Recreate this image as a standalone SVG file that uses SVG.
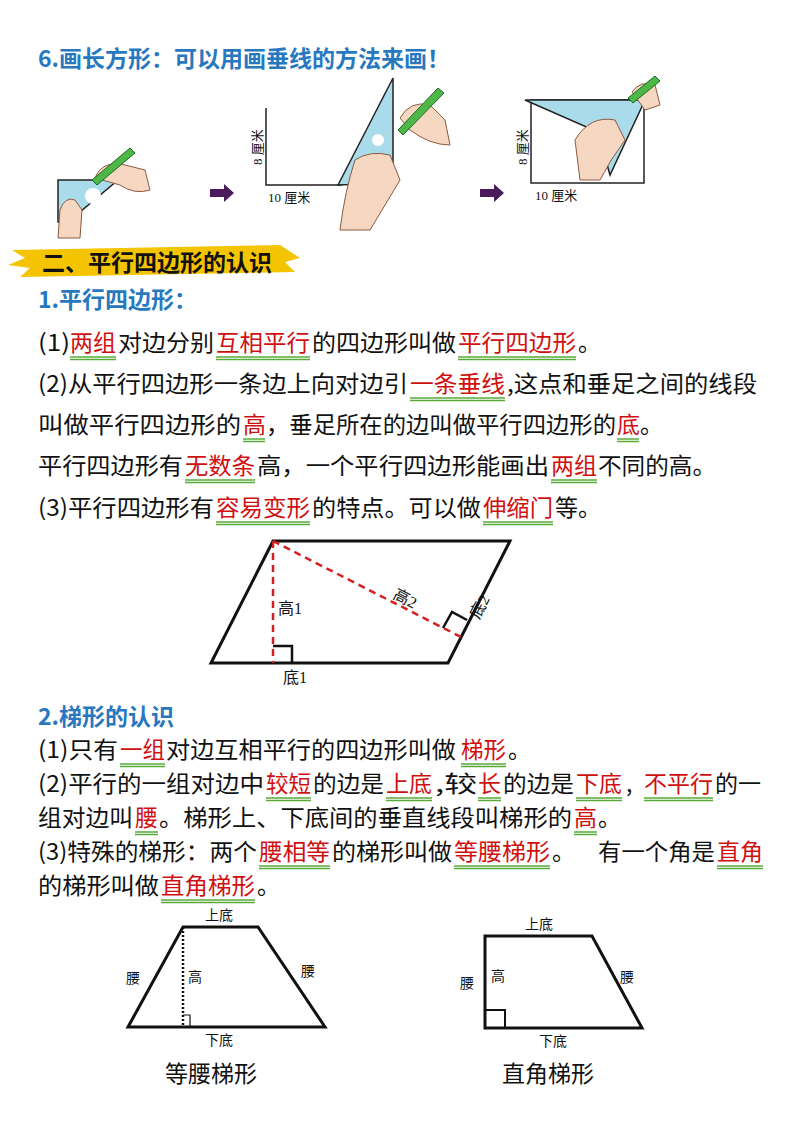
<svg xmlns="http://www.w3.org/2000/svg" width="800" height="1132" viewBox="0 0 800 1132">
<style>
text{font-family:"Noto Sans CJK SC","Liberation Sans",sans-serif;}
.b{font-size:23px;fill:#111;}
.r{font-size:23px;fill:#d01010;}
.h{font-size:23px;fill:#2878c0;font-weight:bold;}
.ul{stroke:#5aaa3a;stroke-width:1.3;fill:none;}
.s{font-size:13px;fill:#111;font-family:"Liberation Serif","Noto Sans CJK SC",serif;}
.t{font-size:14px;fill:#111;}
.tri{fill:#a9dbea;stroke:#222;stroke-width:1.5;}
.hand{fill:#f6d8c2;stroke:#8a5a40;stroke-width:1;}
.pen{fill:#4db848;stroke:#1e6a1e;stroke-width:1;}
</style>
<rect width="800" height="1132" fill="#fff"/>
<g id="title6"><text class="h" x="38" y="67">6.画长方形：可以用画垂线的方法来画！</text></g>
<g id="panel1">
<polygon class="tri" points="58,180 118,180 68,222 58,222"/>
<circle cx="93" cy="196" r="8" fill="#fff"/>
<path class="hand" d="M95,178 Q102,160 125,165 L145,170 L150,190 Q135,195 120,185 Z"/>
<polygon class="pen" points="92,180 130,148 135,153 97,185"/>
<path class="hand" d="M60,210 Q65,196 75,200 L82,210 L80,238 L58,238 Z"/>
</g>
<g id="arrow1"><polygon points="210,189 224,189 224,184 234,193 224,202 224,197 210,197" fill="#4a1a5a"/></g>
<g id="panel2">
<polyline points="266,108 266,185 342,185" fill="none" stroke="#222" stroke-width="1.5"/>
<polygon class="tri" points="338,185 393,78 393,183"/>
<circle cx="378" cy="140" r="6" fill="#fff"/>
<path class="hand" d="M355,160 Q370,150 390,155 L400,180 Q385,205 370,230 L340,230 Q345,190 355,160 Z"/>
<path class="hand" d="M400,118 Q410,100 430,105 L445,120 L450,145 Q430,145 410,130 Z"/>
<polygon class="pen" points="398,130 438,88 444,93 403,135"/>
<text class="s" transform="translate(262,165) rotate(-90)">8 厘米</text>
<text class="s" x="268" y="202">10 厘米</text>
</g>
<g id="arrow2"><polygon points="480,189 494,189 494,184 504,193 494,202 494,197 480,197" fill="#4a1a5a"/></g>
<g id="panel3">
<rect x="531" y="100" width="113" height="83" fill="none" stroke="#222" stroke-width="1.5"/>
<polygon class="tri" points="525,100 645,100 610,175 598,132"/>
<path class="hand" d="M575,140 Q590,115 615,120 L625,140 Q610,160 600,180 L580,180 Z"/>
<path class="hand" d="M632,92 Q640,80 655,85 L660,105 L645,110 Z"/>
<polygon class="pen" points="628,98 655,76 660,81 633,103"/>
<text class="s" transform="translate(527,165) rotate(-90)">8 厘米</text>
<text class="s" x="535" y="200">10 厘米</text>
</g>
<g id="banner">
<path d="M12,250 L280,245 L300,258 L285,262 L295,272 L20,277 L30,268 L8,265 L25,258 Z" fill="#f5c400"/>
<text x="42" y="271" style="font-size:23px;font-weight:bold;fill:#111">二、平行四边形的认识</text>
</g>
<g id="sec1">
<text class="h" x="38" y="308">1.平行四边形：</text>
<text class="b" x="38" y="351" textLength="32" lengthAdjust="spacingAndGlyphs">(1)</text>
<text class="r" x="70" y="351" textLength="46" lengthAdjust="spacingAndGlyphs">两组</text>
<text class="b" x="118" y="351" textLength="96" lengthAdjust="spacingAndGlyphs">对边分别</text>
<text class="r" x="216" y="351" textLength="94" lengthAdjust="spacingAndGlyphs">互相平行</text>
<text class="b" x="312" y="351" textLength="144" lengthAdjust="spacingAndGlyphs">的四边形叫做</text>
<text class="r" x="458" y="351" textLength="118" lengthAdjust="spacingAndGlyphs">平行四边形</text>
<text class="b" x="578" y="351">。</text>
<text class="b" x="38" y="392" textLength="370" lengthAdjust="spacingAndGlyphs">(2)从平行四边形一条边上向对边引</text>
<text class="r" x="410" y="392" textLength="95" lengthAdjust="spacingAndGlyphs">一条垂线</text>
<text class="b" x="507" y="392" textLength="250" lengthAdjust="spacingAndGlyphs">,这点和垂足之间的线段</text>
<text class="b" x="38" y="433" textLength="203" lengthAdjust="spacingAndGlyphs">叫做平行四边形的</text>
<text class="r" x="243" y="433">高</text>
<text class="b" x="266" y="433" textLength="350" lengthAdjust="spacingAndGlyphs">，垂足所在的边叫做平行四边形的</text>
<text class="r" x="617" y="433">底</text>
<text class="b" x="640" y="433">。</text>
<text class="b" x="38" y="474" textLength="145" lengthAdjust="spacingAndGlyphs">平行四边形有</text>
<text class="r" x="185" y="474" textLength="70" lengthAdjust="spacingAndGlyphs">无数条</text>
<text class="b" x="257" y="474" textLength="292" lengthAdjust="spacingAndGlyphs">高，一个平行四边形能画出</text>
<text class="r" x="551" y="474" textLength="46" lengthAdjust="spacingAndGlyphs">两组</text>
<text class="b" x="598" y="474" textLength="118" lengthAdjust="spacingAndGlyphs">不同的高。</text>
<text class="b" x="38" y="516" textLength="176" lengthAdjust="spacingAndGlyphs">(3)平行四边形有</text>
<text class="r" x="216" y="516" textLength="94" lengthAdjust="spacingAndGlyphs">容易变形</text>
<text class="b" x="312" y="516" textLength="169" lengthAdjust="spacingAndGlyphs">的特点。可以做</text>
<text class="r" x="483" y="516" textLength="70" lengthAdjust="spacingAndGlyphs">伸缩门</text>
<text class="b" x="555" y="516" textLength="46" lengthAdjust="spacingAndGlyphs">等。</text>
<g class="ul">
<path d="M70,357H116M70,359.5H116M216,357H310M216,359.5H310M458,357H576M458,359.5H576"/>
<path d="M410,398H505M410,400.5H505"/>
<path d="M243,439H265M243,441.5H265M617,439H639M617,441.5H639"/>
<path d="M185,480H255M185,482.5H255M551,480H597M551,482.5H597"/>
<path d="M216,522H310M216,524.5H310M483,522H553M483,524.5H553"/>
</g>
</g>
<g id="parallelogram">
<polygon points="273,541 510,541 448,663 211,663" fill="none" stroke="#111" stroke-width="3"/>
<path d="M273,541V663M273,541L461,637" stroke="#d42020" stroke-width="2.5" stroke-dasharray="7,5" fill="none"/>
<polyline points="273,646 292,646 292,663" fill="none" stroke="#111" stroke-width="2.5"/>
<polyline points="443,628 452,612 467,620" fill="none" stroke="#111" stroke-width="2.5"/>
<text class="s" style="font-size:16px" x="278" y="614">高1</text>
<text class="s" style="font-size:16px" x="283" y="683">底1</text>
<text class="s" style="font-size:16px" transform="translate(392,598) rotate(27)">高2</text>
<text class="s" style="font-size:16px" transform="translate(479,620) rotate(-62)">底2</text>
</g>
<g id="sec2">
<text class="h" x="38" y="725">2.梯形的认识</text>
<text class="b" x="38" y="758" textLength="80" lengthAdjust="spacingAndGlyphs">(1)只有</text>
<text class="r" x="120" y="758" textLength="45" lengthAdjust="spacingAndGlyphs">一组</text>
<text class="b" x="166" y="758" textLength="290" lengthAdjust="spacingAndGlyphs">对边互相平行的四边形叫做</text>
<text class="r" x="461" y="758" textLength="45" lengthAdjust="spacingAndGlyphs">梯形</text>
<text class="b" x="508" y="758">。</text>
<text class="b" x="38" y="792" textLength="226" lengthAdjust="spacingAndGlyphs">(2)平行的一组对边中</text>
<text class="r" x="266" y="792" textLength="45" lengthAdjust="spacingAndGlyphs">较短</text>
<text class="b" x="313" y="792" textLength="71" lengthAdjust="spacingAndGlyphs">的边是</text>
<text class="r" x="386" y="792" textLength="46" lengthAdjust="spacingAndGlyphs">上底</text>
<text class="b" x="435" y="792" textLength="42" lengthAdjust="spacingAndGlyphs">,较</text>
<text class="r" x="478" y="792">长</text>
<text class="b" x="503" y="792" textLength="71" lengthAdjust="spacingAndGlyphs">的边是</text>
<text class="r" x="576" y="792" textLength="46" lengthAdjust="spacingAndGlyphs">下底</text>
<text class="b" x="626" y="792">,</text>
<text class="r" x="644" y="792" textLength="69" lengthAdjust="spacingAndGlyphs">不平行</text>
<text class="b" x="715" y="792" textLength="46" lengthAdjust="spacingAndGlyphs">的一</text>
<text class="b" x="38" y="826" textLength="95" lengthAdjust="spacingAndGlyphs">组对边叫</text>
<text class="r" x="135" y="826">腰</text>
<text class="b" x="159" y="826" textLength="413" lengthAdjust="spacingAndGlyphs">。梯形上、下底间的垂直线段叫梯形的</text>
<text class="r" x="574" y="826">高</text>
<text class="b" x="598" y="826">。</text>
<text class="b" x="38" y="860" textLength="219" lengthAdjust="spacingAndGlyphs">(3)特殊的梯形：两个</text>
<text class="r" x="259" y="860" textLength="71" lengthAdjust="spacingAndGlyphs">腰相等</text>
<text class="b" x="332" y="860" textLength="120" lengthAdjust="spacingAndGlyphs">的梯形叫做</text>
<text class="r" x="454" y="860" textLength="96" lengthAdjust="spacingAndGlyphs">等腰梯形</text>
<text class="b" x="552" y="860">。</text>
<text class="b" x="598" y="860" textLength="117" lengthAdjust="spacingAndGlyphs">有一个角是</text>
<text class="r" x="717" y="860" textLength="46" lengthAdjust="spacingAndGlyphs">直角</text>
<text class="b" x="38" y="894" textLength="121" lengthAdjust="spacingAndGlyphs">的梯形叫做</text>
<text class="r" x="161" y="894" textLength="94" lengthAdjust="spacingAndGlyphs">直角梯形</text>
<text class="b" x="257" y="894">。</text>
<g class="ul">
<path d="M120,764H165M120,766.5H165M461,764H506M461,766.5H506"/>
<path d="M266,798H311M266,800.5H311M386,798H432M386,800.5H432M478,798H501M478,800.5H501M576,798H622M576,800.5H622M644,798H713M644,800.5H713"/>
<path d="M135,832H158M135,834.5H158M574,832H597M574,834.5H597"/>
<path d="M259,866H330M259,868.5H330M454,866H550M454,868.5H550M717,866H763M717,868.5H763"/>
<path d="M161,900H255M161,902.5H255"/>
</g>
</g>
<g id="trap1">
<polygon points="183,927 258,927 325,1027 128,1027" fill="none" stroke="#111" stroke-width="3"/>
<line x1="183" y1="927" x2="183" y2="1027" stroke="#111" stroke-width="2.5" stroke-dasharray="2,2"/>
<polyline points="183,1015 190,1015 190,1027" fill="none" stroke="#111" stroke-width="1.2"/>
<text class="t" x="205" y="920">上底</text>
<text class="t" x="126" y="983">腰</text>
<text class="t" x="188" y="982">高</text>
<text class="t" x="301" y="976">腰</text>
<text class="t" x="205" y="1045">下底</text>
<text x="165" y="1082" style="font-size:23px;fill:#111">等腰梯形</text>
</g>
<g id="trap2">
<polygon points="485,936 592,936 642,1028 485,1028" fill="none" stroke="#111" stroke-width="3"/>
<polyline points="485,1010 505,1010 505,1028" fill="none" stroke="#111" stroke-width="2"/>
<text class="t" x="525" y="929">上底</text>
<text class="t" x="460" y="988">腰</text>
<text class="t" x="491" y="981">高</text>
<text class="t" x="620" y="982">腰</text>
<text class="t" x="539" y="1046">下底</text>
<text x="502" y="1082" style="font-size:23px;fill:#111">直角梯形</text>
</g>
</svg>
